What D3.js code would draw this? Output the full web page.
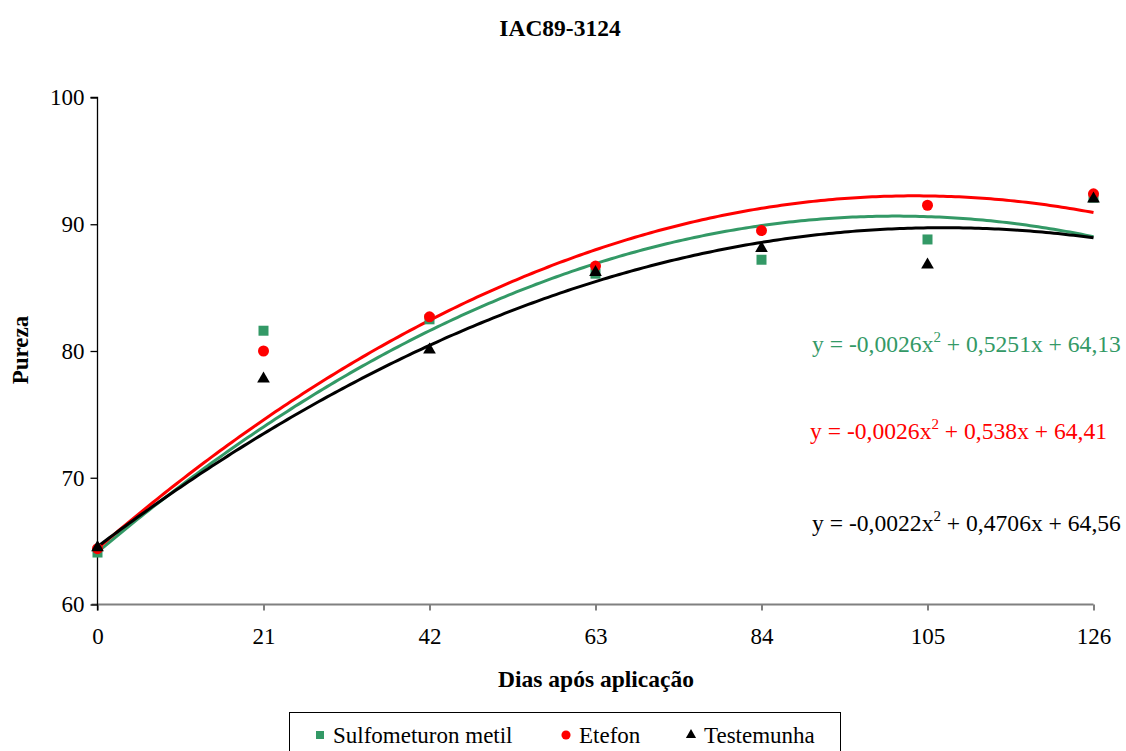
<!DOCTYPE html>
<html>
<head>
<meta charset="utf-8">
<script src="https://cdn.jsdelivr.net/npm/d3@7"></script>
<style>
  body { margin: 0; background: #fff; }
  svg { display: block; }
  text { font-family: "Liberation Serif", "Times New Roman", serif; }
</style>
</head>
<body>
<svg id="chart" width="1126" height="751"></svg>
<script>
// Days after application
const days = [0, 21, 42, 63, 84, 105, 126];
const xTicks = [0, 21, 42, 63, 84, 105, 126];
const yTicks = [60, 70, 80, 90, 100];

// Purity observations per treatment
const sulfometuron = [64.1, 81.6, 82.5, 86.1, 87.2, 88.8, 92.1];
const etefon       = [64.4, 80.0, 82.7, 86.7, 89.5, 91.5, 92.4];
const testemunha   = [64.5, 77.8, 80.1, 86.2, 88.1, 86.8, 92.0];

// Quadratic fits: [a, b, c] for y = a x^2 + b x + c
const fitSulfometuron = [-0.0026, 0.5251, 64.13];
const fitEtefon       = [-0.0026, 0.538, 64.41];
const fitTestemunha   = [-0.0022, 0.4706, 64.56];

const seriesNames = ["Sulfometuron metil", "Etefon", "Testemunha"];
const equationTexts = [
  ["y = -0,0026x", " + 0,5251x + 64,13"],
  ["y = -0,0026x", " + 0,538x + 64,41"],
  ["y = -0,0022x", " + 0,4706x + 64,56"]
];

const SERIF = "'Liberation Serif', 'Times New Roman', serif";
const svg = d3.select("#chart");
const x = d3.scaleLinear().domain([0, 126]).range([97.5, 1093.5]);
const y = d3.scaleLinear().domain([60, 100]).range([604.5, 97.5]);

const series = [
  { name: seriesNames[0], values: sulfometuron, fit: fitSulfometuron, color: "#339966", shape: d3.symbolSquare, eq: equationTexts[0] },
  { name: seriesNames[1], values: etefon,       fit: fitEtefon,       color: "#ff0000", shape: d3.symbolCircle, eq: equationTexts[1] },
  { name: seriesNames[2], values: testemunha,   fit: fitTestemunha,   color: "#000000", shape: d3.symbolTriangle, eq: equationTexts[2] }
];

// Title
svg.append("text").attr("x", 560).attr("y", 36).attr("text-anchor", "middle")
  .attr("font-family", SERIF).attr("font-size", 23.5).attr("font-weight", "bold").text("IAC89-3124");

// X axis (gray line, ticks below)
const xAxis = svg.append("g").attr("transform", `translate(0,${y(60)})`)
  .call(d3.axisBottom(x).tickValues(xTicks).tickSize(6).tickPadding(17).tickFormat(d3.format("d")));
xAxis.select(".domain").attr("stroke", "#808080").attr("stroke-width", 2)
  .attr("d", `M${x(0) - 6},0H${x(126)}`);
xAxis.selectAll(".tick line").attr("stroke", "#808080").attr("stroke-width", 2);
xAxis.selectAll(".tick text").attr("font-size", 23).attr("fill", "#000").attr("font-family", SERIF);

// Y axis
const yAxis = svg.append("g").attr("transform", `translate(${x(0)},0)`)
  .call(d3.axisLeft(y).tickValues(yTicks).tickSize(7).tickPadding(6).tickFormat(d3.format("d")));
yAxis.select(".domain").attr("stroke", "#000").attr("stroke-width", 1.3)
  .attr("d", `M-7,${y(100)}H0V${y(60) + 6}`);
yAxis.selectAll(".tick line").attr("stroke", "#000").attr("stroke-width", 1.3);
yAxis.selectAll(".tick text").attr("font-size", 23).attr("fill", "#000").attr("font-family", SERIF);

// Axis titles
svg.append("text").attr("x", 596).attr("y", 687).attr("text-anchor", "middle")
  .attr("font-family", SERIF).attr("font-size", 23.5).attr("font-weight", "bold").text("Dias após aplicação");
svg.append("text").attr("transform", "translate(28,350) rotate(-90)").attr("text-anchor", "middle")
  .attr("font-family", SERIF).attr("font-size", 23).attr("font-weight", "bold").text("Pureza");

// Fitted curves
const xs = d3.range(0, 126.01, 0.5);
const line = d3.line().x(d => x(d[0])).y(d => y(d[1]));
series.forEach(s => {
  const pts = xs.map(v => [v, s.fit[0] * v * v + s.fit[1] * v + s.fit[2]]);
  svg.append("path").datum(pts).attr("d", line).attr("fill", "none")
    .attr("stroke", s.color).attr("stroke-width", 3);
});

// Markers
const sizes = { "Sulfometuron metil": 100, "Etefon": 95, "Testemunha": 70 };
series.forEach(s => {
  svg.append("g").selectAll("path").data(s.values).join("path")
    .attr("transform", (d, i) => `translate(${x(days[i])},${y(d)})`)
    .attr("d", d3.symbol().type(s.shape).size(sizes[s.name]))
    .attr("fill", s.color);
});

// Equation labels
const eqPos = [[812, 352], [810, 439], [812, 531]];
series.forEach((s, i) => {
  const t = svg.append("text").attr("x", eqPos[i][0]).attr("y", eqPos[i][1])
    .attr("font-family", SERIF).attr("font-size", 23.6).attr("fill", s.color);
  t.append("tspan").text(s.eq[0]);
  t.append("tspan").attr("dy", -10).attr("font-size", 15).text("2");
  t.append("tspan").attr("dy", 10).text(s.eq[1]);
});

// Legend
const lg = svg.append("g");
lg.append("rect").attr("x", 289.5).attr("y", 712.5).attr("width", 551).attr("height", 50)
  .attr("fill", "#fff").attr("stroke", "#000").attr("stroke-width", 1);
const legendX = [320, 566, 691];
series.forEach((s, i) => {
  lg.append("path").attr("transform", `translate(${legendX[i]},735)`)
    .attr("d", d3.symbol().type(s.shape).size(s.shape === d3.symbolTriangle ? 45 : 65))
    .attr("fill", s.color);
  lg.append("text").attr("x", legendX[i] + 13).attr("y", 743)
    .attr("font-family", SERIF).attr("font-size", 23).text(s.name);
});
</script>
</body>
</html>
